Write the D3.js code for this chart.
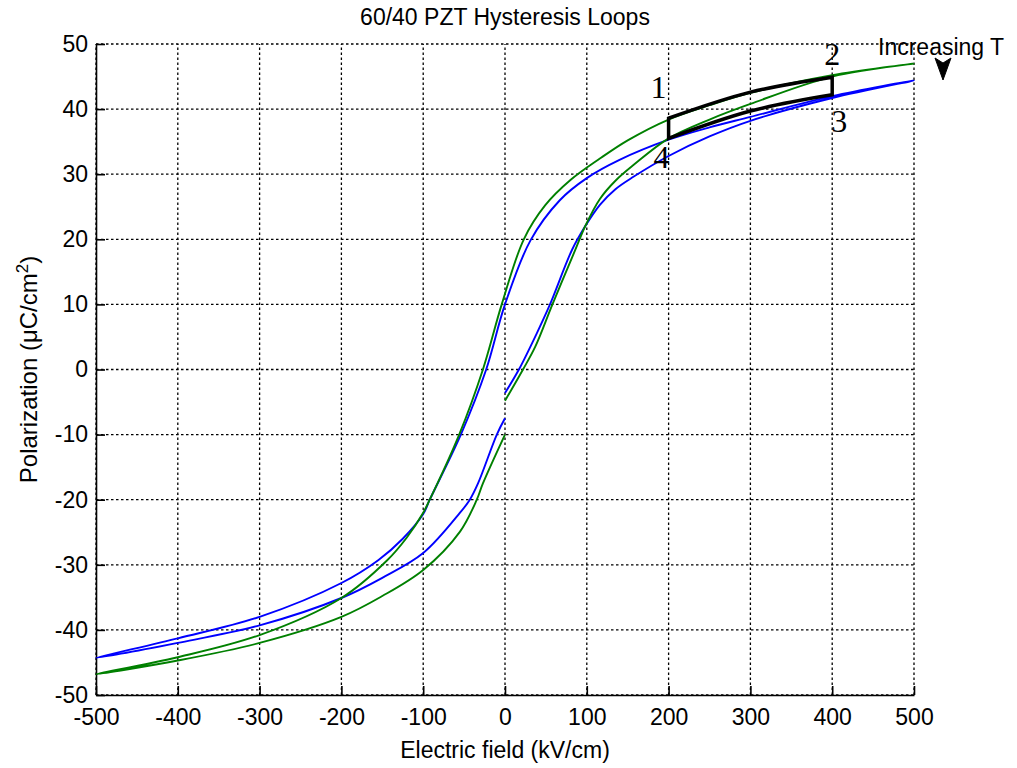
<!DOCTYPE html>
<html>

<head>
    <title>PZT Hysteresis Loops</title>
    <script src="https://d3js.org/d3.v7.min.js"></script>
    <meta http-equiv="Content-Type" content="text/html; charset=utf-8">
    <style>
        body { margin: 0; background: #fff; }
        text { font-family: "Liberation Sans", Arial, sans-serif; }
    </style>
</head>

<body>
    <script>
        // loop data: [E (kV/cm), P (uC/cm2)]
        // blue loop: first rise, falling branch, rising branch back to 0
        const blueRise = [[0, -3.6], [17, 0], [39, 5.6], [55, 10], [82, 18.4], [98, 22], [116, 25.3], [135, 27.7],
            [157, 29.6], [200, 32.8], [250, 35.8], [300, 38.2], [400, 41.7], [500, 44.4]];
        const blueFall = [[400, 42], [300, 38.8], [250, 37.2], [200, 35.3], [140, 32.2], [100, 29.4], [67, 26],
            [31, 19.8], [0, 10], [-23, 0], [-54, -10], [-92, -20], [-100, -22.2], [-125, -26], [-155, -29.3],
            [-200, -32.8], [-300, -38], [-400, -41.3], [-500, -44.3]];
        const blueBack = [[-400, -42], [-300, -39.3], [-200, -35.1], [-150, -32], [-100, -28.2], [-55, -22],
            [-43, -20], [-33, -17.5], [-10, -10], [0, -7.5]];

        // green loop
        const greenRise = [[0, -4.8], [22, 0], [37, 3.5], [58, 10], [86, 18.4], [98, 22], [116, 26.2], [135, 29],
            [157, 31.4], [200, 35.5], [250, 38.4], [300, 40.8], [400, 45], [500, 47]];
        const greenFall = [[400, 45.2], [300, 42.5], [250, 40.6], [200, 38.4], [150, 35.2], [116, 32.4],
            [80, 29.1], [49, 25.2], [23, 20], [-4, 10], [-27, 0], [-56, -10], [-92, -20], [-100, -22],
            [-120, -25.8], [-144, -29.3], [-200, -35.1], [-300, -40.8], [-400, -44.2], [-500, -46.8]];
        const greenBack = [[-400, -44.7], [-300, -42], [-200, -38], [-150, -34.8], [-100, -30.8], [-55, -24.9],
            [-34.5, -20], [-27, -17.5], [0, -10]];

        // highlighted cycle 1-2-3-4
        const boxTop = [[200, 38.6], [300, 42.6], [400, 44.9]];
        const boxBottom = [[400, 42.2], [300, 39.7], [200, 35.5]];
        const cornerNames = ["1", "2", "3", "4"];
        const cornerPos = [[200, 38.6], [400, 44.9], [400, 42.2], [200, 35.5]];

        const xTicks = [-500, -400, -300, -200, -100, 0, 100, 200, 300, 400, 500];
        const yTicks = [-50, -40, -30, -20, -10, 0, 10, 20, 30, 40, 50];

        const width = 1017;
        const height = 768;
        const margin = { top: 44, right: 103, bottom: 73, left: 96 };

        const svg = d3.select("body")
            .append("svg")
            .attr("width", width)
            .attr("height", height);

        const xScale = d3.scaleLinear()
            .domain([-500, 500])
            .range([margin.left, width - margin.right]);

        const yScale = d3.scaleLinear()
            .domain([-50, 50])
            .range([height - margin.bottom, margin.top]);

        // dotted grid
        svg.append("g")
            .selectAll("line")
            .data(xTicks)
            .join("line")
            .attr("x1", d => xScale(d)).attr("x2", d => xScale(d))
            .attr("y1", yScale(-50)).attr("y2", yScale(50))
            .attr("stroke", "#000")
            .attr("stroke-width", 1.3)
            .attr("stroke-dasharray", "2.5,2.5");

        svg.append("g")
            .selectAll("line")
            .data(yTicks)
            .join("line")
            .attr("x1", xScale(-500)).attr("x2", xScale(500))
            .attr("y1", d => yScale(d)).attr("y2", d => yScale(d))
            .attr("stroke", "#000")
            .attr("stroke-width", 1.3)
            .attr("stroke-dasharray", "2.5,2.5");

        // axes with inward ticks, plain hyphen for negatives
        const fmt = d => String(d);
        const xAxis = svg.append("g")
            .attr("transform", `translate(0,${yScale(-50)})`)
            .call(d3.axisBottom(xScale).tickValues(xTicks).tickFormat(fmt)
                .tickSizeInner(-9).tickSizeOuter(0).tickPadding(14));

        const yAxis = svg.append("g")
            .attr("transform", `translate(${xScale(-500)},0)`)
            .call(d3.axisLeft(yScale).tickValues(yTicks).tickFormat(fmt)
                .tickSizeInner(-9).tickSizeOuter(0).tickPadding(8));

        [xAxis, yAxis].forEach(ax => {
            ax.select(".domain").attr("stroke", "#000").attr("stroke-width", 1.6);
            ax.selectAll(".tick line").attr("stroke", "#000").attr("stroke-width", 1.6);
            ax.selectAll(".tick text")
                .attr("fill", "#000")
                .style("font-family", '"Liberation Sans", Arial, sans-serif')
                .style("font-size", "23px");
        });

        // loops
        const line = d3.line()
            .x(d => xScale(d[0]))
            .y(d => yScale(d[1]))
            .curve(d3.curveCatmullRom.alpha(0.5));

        const loops = [
            { pts: blueRise.concat(blueFall, blueBack), color: "#0000ff" },
            { pts: greenRise.concat(greenFall, greenBack), color: "#008000" }
        ];

        svg.selectAll(".loop")
            .data(loops)
            .join("path")
            .attr("class", "loop")
            .attr("d", d => line(d.pts))
            .attr("fill", "none")
            .attr("stroke", d => d.color)
            .attr("stroke-width", 1.9);

        // black cycle outline
        svg.append("path")
            .attr("d", line(boxTop) + "L" + line(boxBottom).slice(1) + "Z")
            .attr("fill", "none")
            .attr("stroke", "#000")
            .attr("stroke-width", 3.5)
            .attr("stroke-linejoin", "miter");

        const cornerOffset = [[-10, -20], [0, -12], [7, 37], [-7, 30]];
        svg.selectAll(".corner")
            .data(cornerNames)
            .join("text")
            .attr("class", "corner")
            .attr("x", (d, i) => xScale(cornerPos[i][0]) + cornerOffset[i][0])
            .attr("y", (d, i) => yScale(cornerPos[i][1]) + cornerOffset[i][1])
            .attr("text-anchor", "middle")
            .style("font-family", '"Liberation Serif", "Times New Roman", serif')
            .style("font-size", "32px")
            .text(d => d);

        // title and labels
        svg.append("text")
            .attr("x", (xScale(-500) + xScale(500)) / 2)
            .attr("y", 25)
            .attr("text-anchor", "middle")
            .style("font-size", "23px")
            .text("60/40 PZT Hysteresis Loops");

        svg.append("text")
            .attr("x", (xScale(-500) + xScale(500)) / 2)
            .attr("y", 758)
            .attr("text-anchor", "middle")
            .style("font-size", "23px")
            .text("Electric field (kV/cm)");

        const yLabel = svg.append("text")
            .attr("transform", `translate(37,${(yScale(-50) + yScale(50)) / 2}) rotate(-90)`)
            .attr("text-anchor", "middle")
            .style("font-size", "24px");
        yLabel.append("tspan").text("Polarization (\u03bcC/cm");
        yLabel.append("tspan").attr("dy", -9).style("font-size", "17px").text("2");
        yLabel.append("tspan").attr("dy", 9).text(")");

        // "Increasing T" annotation with arrow head
        svg.append("text")
            .attr("x", 878)
            .attr("y", 55)
            .style("font-size", "23px")
            .text("Increasing T");

        svg.append("path")
            .attr("d", "M935,58 L943,63 L951,58 L943,80 Z")
            .attr("fill", "#000")
            .attr("stroke", "#000")
            .attr("stroke-width", 1);
    </script>
</body>

</html>
